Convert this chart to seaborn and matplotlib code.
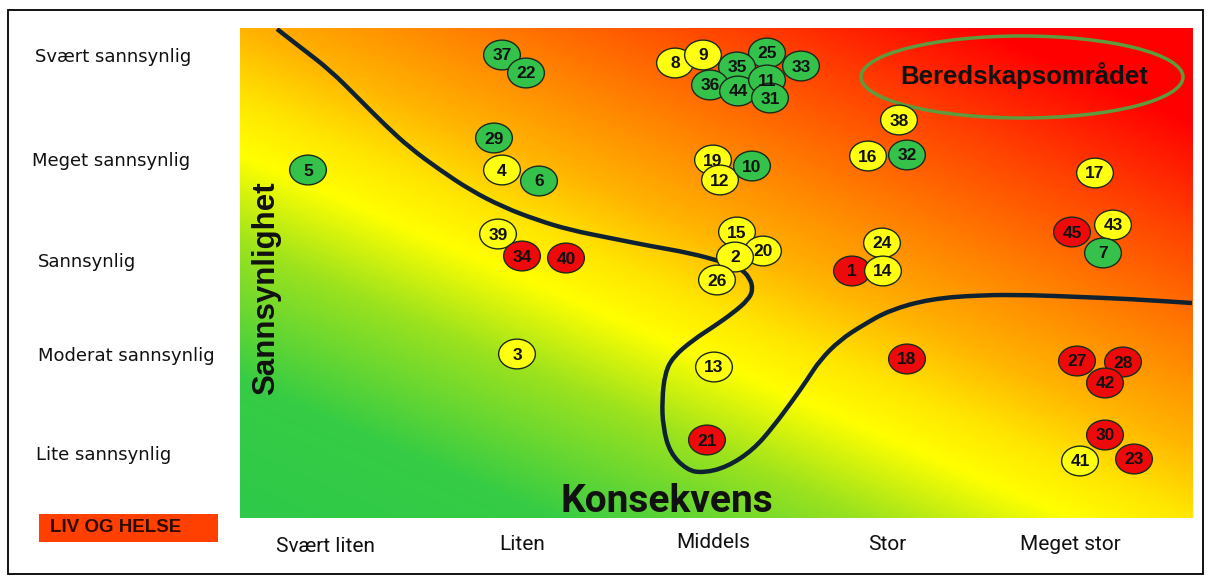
import numpy as np
import pandas as pd
import matplotlib
matplotlib.use("Agg")
import matplotlib.pyplot as plt
import seaborn as sns
from matplotlib.colors import LinearSegmentedColormap
from matplotlib.patches import Ellipse, Rectangle, PathPatch
from matplotlib.path import Path
from matplotlib.transforms import Affine2D

# --- data (positions, in pixel units of the matrix) ---
ids = [37, 22, 29, 4, 6, 5, 8, 9, 25, 35, 33, 36, 44, 11, 31,
       19, 12, 10, 38, 16, 32, 17, 39, 34, 40, 15, 20, 2, 26,
       24, 1, 14, 45, 43, 7, 3, 13, 18, 27, 28, 42, 21, 30, 41, 23]
pos_x = [502, 526, 494, 502, 539, 308, 675, 703, 767, 737, 801, 710, 738, 767, 770,
         713, 720, 752, 899, 868, 907, 1095, 498, 522, 566, 737, 763, 735, 717,
         882, 852, 883, 1072, 1113, 1103, 517, 714, 907, 1077, 1123, 1105, 707, 1105, 1080, 1134]
pos_y = [55, 73, 138, 170, 181, 170, 63, 55, 53, 67, 66, 85, 91, 80, 98,
         160, 180, 166, 120, 156, 155, 173, 234, 256, 258, 232, 251, 257, 280,
         243, 271, 271, 232, 225, 253, 354, 367, 359, 361, 362, 383, 440, 435, 461, 459]
status = ["gronn", "gronn", "gronn", "gul", "gronn", "gronn", "gul", "gul", "gronn", "gronn",
          "gronn", "gronn", "gronn", "gronn", "gronn", "gul", "gul", "gronn", "gul", "gul",
          "gronn", "gul", "gul", "rod", "rod", "gul", "gul", "gul", "gul", "gul",
          "rod", "gul", "rod", "gul", "gronn", "gul", "gul", "rod", "rod", "rod",
          "rod", "rod", "rod", "gul", "rod"]

konsekvens = ["Svært liten", "Liten", "Middels", "Stor", "Meget stor"]
konsekvens_x = [325, 522, 713, 887, 1070]
konsekvens_y = [546, 545, 542, 545, 544]
sannsynlighet = ["Svært sannsynlig", "Meget sannsynlig", "Sannsynlig",
                 "Moderat sannsynlig", "Lite sannsynlig"]
sannsynlighet_x = [35, 32, 38, 38, 36]
sannsynlighet_y = [57, 161, 262, 356, 455]

# grense-kurve
kurve_x = [277, 300, 330, 360, 385, 410, 440, 470, 503, 537, 570, 610, 650, 690, 723,
           740, 750, 753, 748, 733, 713, 693, 673, 665, 662, 663, 670, 687, 703, 727,
           753, 773, 793, 807, 820, 840, 863, 890, 930, 980, 1030, 1080, 1130, 1192]
kurve_y = [29, 47, 70, 100, 125, 148, 170, 190, 207, 220, 230, 238, 246, 253, 262,
           268, 278, 290, 300, 313, 327, 340, 357, 373, 400, 427, 453, 470, 473, 467,
           450, 427, 400, 380, 360, 340, 325, 310, 299, 295, 295, 297, 299, 303]

palette = {"gronn": "#35c24a", "gul": "#ffff10", "rod": "#ee0a0a"}

df = pd.DataFrame({"x": pos_x, "y": pos_y, "status": status, "id": ids})

W, H = 1211, 581
X0, X1, Y0, Y1 = 240, 1193, 28, 518

fig = plt.figure(figsize=(W / 100, H / 100), dpi=100)
ax = fig.add_axes([X0 / W, 1 - Y1 / H, (X1 - X0) / W, (Y1 - Y0) / H])

# bakgrunn: gradient gronn -> gul -> rod
cmap = LinearSegmentedColormap.from_list("risiko", [
    (0.0, "#2ec94a"), (0.15, "#36cc44"), (0.30, "#9be21e"), (0.40, "#ffff00"),
    (0.46, "#ffe600"), (0.54, "#ffb400"), (0.64, "#ff8400"), (0.78, "#ff4000"),
    (0.90, "#ff0000"), (1.0, "#ff0000")])
u = np.linspace(0, 1, 400)
v = np.linspace(1, 0, 200)
U, V = np.meshgrid(u, v)
ax.imshow(0.46 * U + 0.54 * V, cmap=cmap, vmin=0, vmax=1, aspect="auto",
          extent=(X0, X1, Y1, Y0), origin="upper", interpolation="bilinear")

# glatt kurve: punktene brukes som kontrollpunkter for kvadratiske bezier-segmenter
pts = np.column_stack([kurve_x, kurve_y]).astype(float)
verts = [pts[0]]
codes = [Path.MOVETO]
for i in range(1, len(pts) - 1):
    verts += [pts[i], (pts[i] + pts[i + 1]) / 2]
    codes += [Path.CURVE3, Path.CURVE3]
verts.append(pts[-1])
codes.append(Path.LINETO)
ax.add_patch(PathPatch(Path(verts, codes), fill=False, ec="#0e2232", lw=3.2,
                       capstyle="butt", joinstyle="round", zorder=3))

ax.add_patch(Ellipse((1022, 77), 322, 82, fill=False, ec="#5f9a3c", lw=2.5, zorder=3))
ax.text(1024, 76, "Beredskapsområdet", ha="center", va="center", fontsize=18.5,
        fontweight="bold", family="Liberation Sans", color="#111111", zorder=4)

ellipse_marker = Path.unit_circle().transformed(Affine2D().scale(1, 0.81))
sns.scatterplot(data=df, x="x", y="y", hue="status", palette=palette, marker=ellipse_marker,
                s=700, edgecolor="#1c2a1c", linewidth=1, legend=False, ax=ax, zorder=5)
for _, r in df.iterrows():
    ax.text(r["x"], r["y"] + 1, str(r["id"]), ha="center", va="center", fontsize=12.5,
            fontweight="bold", family="Liberation Sans", color="#111111", zorder=6)

ax.text(266, 288, "Sannsynlighet", rotation=90, ha="center", va="center", fontsize=22.5,
        fontweight="bold", family="Liberation Sans", color="#111111", zorder=6)
ax.text(667, 501, "Konsekvens", ha="center", va="center", fontsize=28,
        fontweight="bold", family="Roboto", color="#111111", zorder=6)

for lab, lx, ly in zip(sannsynlighet, sannsynlighet_x, sannsynlighet_y):
    ax.text(lx, ly, lab, ha="left", va="center", fontsize=13, family="DejaVu Sans",
            color="#111111", clip_on=False)
for lab, lx, ly in zip(konsekvens, konsekvens_x, konsekvens_y):
    ax.text(lx, ly, lab, ha="center", va="center", fontsize=15, family="Roboto",
            color="#111111", clip_on=False)

ax.add_patch(Rectangle((39, 514), 179, 28, fc="#ff4000", ec="none", clip_on=False))
ax.text(50, 528, "LIV OG HELSE", ha="left", va="center", fontsize=13.5, fontweight="bold",
        family="Liberation Sans", color="#2e0a00", clip_on=False)

ax.set_xlim(X0, X1)
ax.set_ylim(Y1, Y0)
ax.set_axis_off()

fig.add_artist(Rectangle((8 / W, 1 - 574 / H), (1203 - 8) / W, (574 - 10) / H,
                         transform=fig.transFigure, fill=False, ec="black", lw=1.3))

fig.savefig("out.png", dpi=100)
